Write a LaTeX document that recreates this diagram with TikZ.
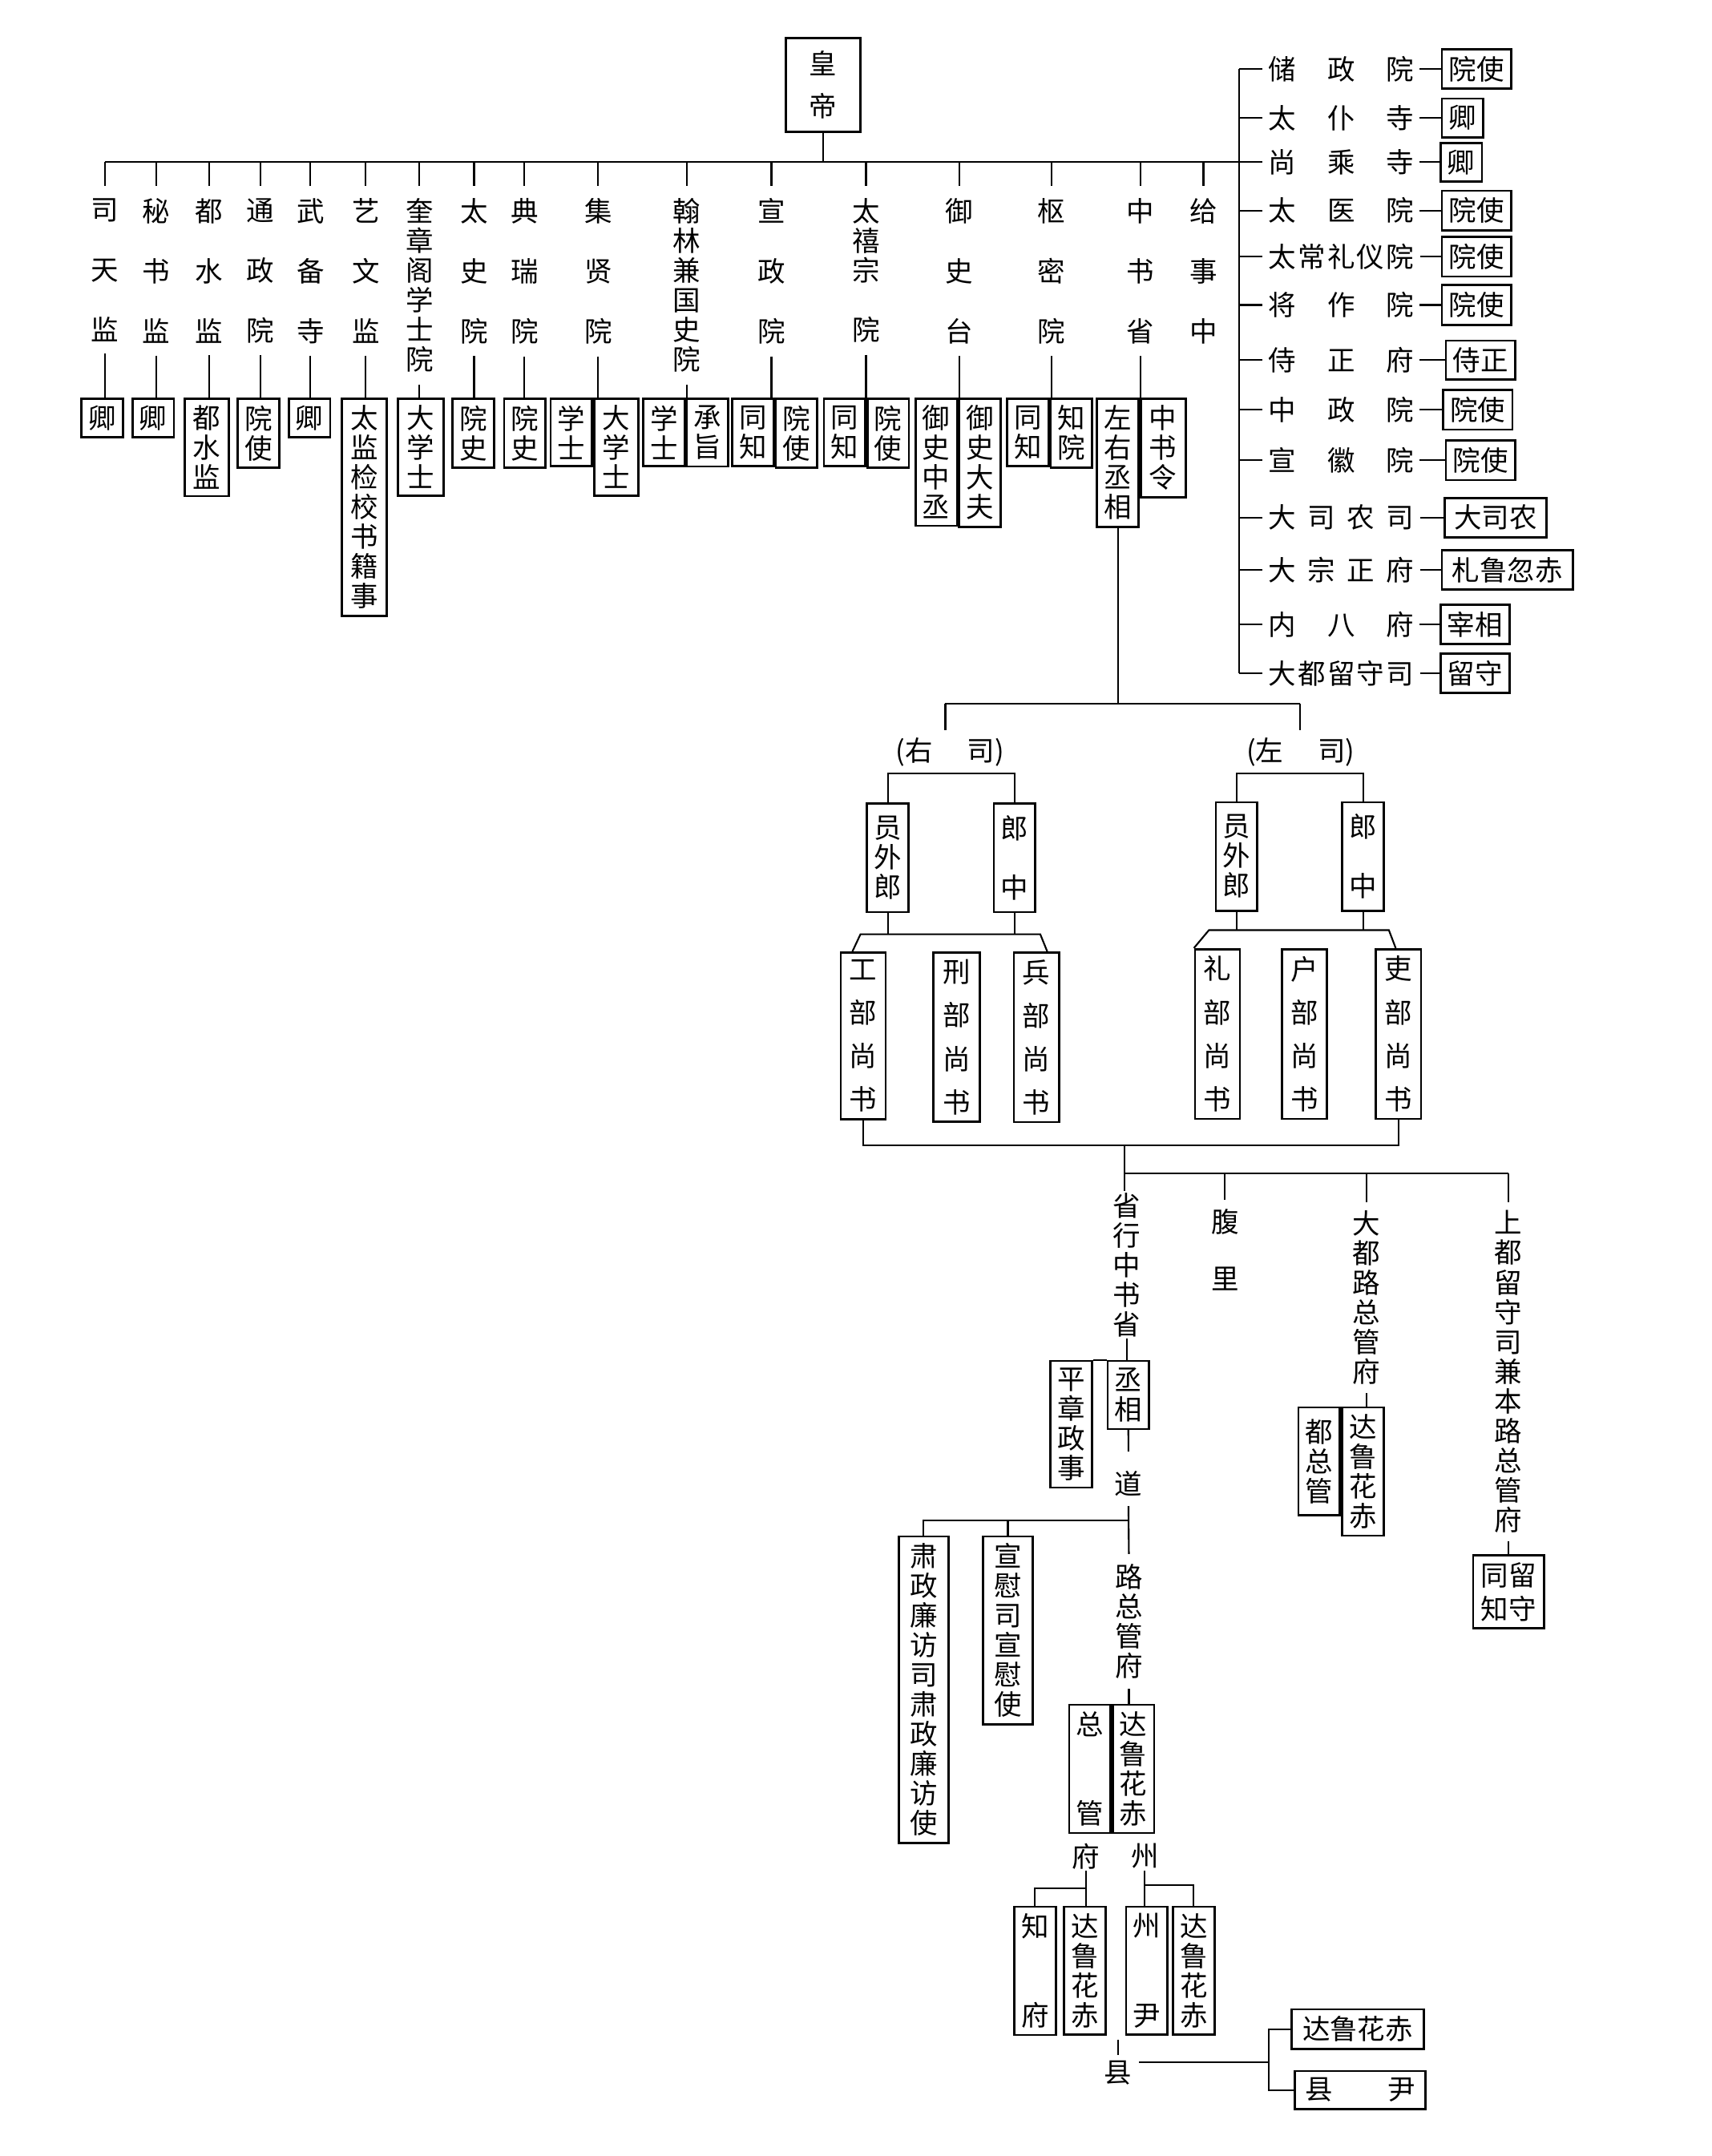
\documentclass[tikz,border=0pt]{standalone}
\usepackage{fontspec}
\setmainfont{Noto Sans CJK SC}
\usetikzlibrary{calc}
\tikzset{
  every node/.style={font=\fontsize{11.4pt}{12.24pt}\selectfont},
  ln/.style={line width=0.7pt},
  lbl/.style={inner xsep=0pt, inner ysep=0.17cm, align=center},
  lbs/.style={inner xsep=0pt, inner ysep=0.12cm, align=center},
  tx/.style={inner xsep=0.1cm, inner ysep=0.02cm, align=center},
  rt/.style={inner xsep=0.08cm, inner ysep=0pt},
  vbox/.style={draw, line width=0.9pt, inner sep=0.1cm, align=center, minimum width=0.6cm},
  hbox/.style={draw, line width=0.9pt, inner sep=0.1cm},
}
\begin{document}
\begin{tikzpicture}[x=0.02cm,y=-0.02cm]
\fill[white] (0,0) rectangle (1240,1562.3);
\useasboundingbox (0,0) rectangle (1240,1562.3);

% emperor
\node[vbox, minimum width=1.08cm, minimum height=1.36cm] (emp) at (596.5,61.5) {皇\\[0.19cm]帝};
\coordinate (hl) at (76,117.5);
\coordinate (hr) at (898,117.5);
\draw[ln] (emp.south) -- (emp.south |- hl);
\draw[ln] (hl) -- (hr);

% column labels
\node[lbl, anchor=north] (c1) at (76,135) {司\\[0.44cm]天\\[0.44cm]监};
\node[lbl, anchor=north] (c2) at (113,135) {秘\\[0.44cm]书\\[0.44cm]监};
\node[lbl, anchor=north] (c3) at (151.5,135) {都\\[0.44cm]水\\[0.44cm]监};
\node[lbl, anchor=north] (c4) at (188.5,135) {通\\[0.44cm]政\\[0.44cm]院};
\node[lbl, anchor=north] (c5) at (225,135) {武\\[0.44cm]备\\[0.44cm]寺};
\node[lbl, anchor=north] (c6) at (265,135) {艺\\[0.44cm]文\\[0.44cm]监};
\node[lbl, anchor=north] (c7) at (304,135) {奎\\章\\阁\\学\\士\\院};
\node[lbl, anchor=north] (c8) at (343.5,135) {太\\[0.44cm]史\\[0.44cm]院};
\node[lbl, anchor=north] (c9) at (380,135) {典\\[0.44cm]瑞\\[0.44cm]院};
\node[lbl, anchor=north] (c10) at (433.5,135) {集\\[0.44cm]贤\\[0.44cm]院};
\node[lbl, anchor=north] (c11) at (497.5,135) {翰\\林\\兼\\国\\史\\院};
\node[lbl, anchor=north] (c12) at (559,135) {宣\\[0.44cm]政\\[0.44cm]院};
\node[lbl, anchor=north] (c13) at (627.5,135) {太\\禧\\宗\\[0.43cm]院};
\node[lbl, anchor=north] (c14) at (695,135) {御\\[0.44cm]史\\[0.44cm]台};
\node[lbl, anchor=north] (c15) at (762,135) {枢\\[0.44cm]密\\[0.44cm]院};
\node[lbl, anchor=north] (c16) at (826.5,135) {中\\[0.44cm]书\\[0.44cm]省};
\node[lbl, anchor=north] (c17) at (872,135) {给\\[0.44cm]事\\[0.44cm]中};
\foreach \c in {c1,c2,c3,c4,c5,c6,c7,c8,c9,c10,c11,c12,c13,c14,c15,c16,c17}
  \draw[ln] (\c.north |- hl) -- (\c.north);

% boxes under columns
\node[vbox, anchor=north] (b1) at (74,288) {卿};
\node[vbox, anchor=north] (b2) at (111,288) {卿};
\node[vbox, anchor=north, minimum width=0.64cm] (b3) at (149.7,288) {都\\水\\监};
\node[vbox, anchor=north, minimum width=0.58cm] (b4) at (187.4,288) {院\\使};
\node[vbox, anchor=north] (b5) at (224.2,288) {卿};
\node[vbox, anchor=north, minimum width=0.65cm] (b6) at (264,288) {太\\监\\检\\校\\书\\籍\\事};
\node[vbox, anchor=north, minimum width=0.66cm] (b7) at (305,288) {大\\学\\士};
\node[vbox, anchor=north, minimum width=0.58cm] (b8) at (342.9,288) {院\\史};
\node[vbox, anchor=north, minimum width=0.58cm] (b9) at (380.3,288) {院\\史};
\node[vbox, anchor=north east, minimum width=0.58cm] (b10a) at (429.8,288) {学\\士};
\node[vbox, anchor=north west, minimum width=0.64cm] (b10b) at (429.8,288) {大\\学\\士};
\node[vbox, anchor=north east, minimum width=0.57cm] (b11a) at (497,288) {学\\士};
\node[vbox, anchor=north west, minimum width=0.57cm] (b11b) at (497,288) {承\\旨};
\node[vbox, anchor=north east, minimum width=0.57cm] (b12a) at (561.4,288) {同\\知};
\node[vbox, anchor=north west, minimum width=0.57cm] (b12b) at (561.4,288) {院\\使};
\node[vbox, anchor=north east, minimum width=0.59cm] (b13a) at (627.8,288) {同\\知};
\node[vbox, anchor=north west, minimum width=0.57cm] (b13b) at (627.8,288) {院\\使};
\node[vbox, anchor=north east, minimum width=0.59cm] (b14a) at (694.2,288) {御\\史\\中\\丞};
\node[vbox, anchor=north west, minimum width=0.6cm] (b14b) at (694.2,288) {御\\史\\大\\夫};
\node[vbox, anchor=north east, minimum width=0.57cm] (b15a) at (760.6,288) {同\\知};
\node[vbox, anchor=north west, minimum width=0.58cm] (b15b) at (760.6,288) {知\\院};
\node[vbox, anchor=north east, minimum width=0.6cm] (b16a) at (825.8,288) {左\\右\\丞\\相};
\node[vbox, anchor=north west, minimum width=0.65cm] (b16b) at (825.8,288) {中\\书\\令};
\draw[ln] (c1.south) -- (c1.south |- b1.north);
\draw[ln] (c2.south) -- (c2.south |- b2.north);
\draw[ln] (c3.south) -- (c3.south |- b3.north);
\draw[ln] (c4.south) -- (c4.south |- b4.north);
\draw[ln] (c5.south) -- (c5.south |- b5.north);
\draw[ln] (c6.south) -- (c6.south |- b6.north);
\draw[ln] (c7.south) -- (c7.south |- b7.north);
\draw[ln] (c8.south) -- (c8.south |- b8.north);
\draw[ln] (c9.south) -- (c9.south |- b9.north);
\draw[ln] (c10.south) -- (c10.south |- b10b.north);
\draw[ln] (c11.south) -- (c11.south |- b11a.north);
\draw[ln] (c12.south) -- (c12.south |- b12a.north);
\draw[ln] (c13.south) -- (c13.south |- b13a.north);
\draw[ln] (c14.south) -- (c14.south |- b14a.north);
\draw[ln] (c15.south) -- (c15.south |- b15a.north);
\draw[ln] (c16.south) -- (c16.south |- b16a.north);

% right column
\coordinate (vt) at (898,50);
\coordinate (vb) at (898,488);
\draw[ln] (vt) -- (vb);
\node[rt, anchor=west] (r1) at (915,50) {储\hspace{0.45cm}政\hspace{0.45cm}院};
\node[rt, anchor=west] (r2) at (915,85.5) {太\hspace{0.45cm}仆\hspace{0.45cm}寺};
\node[rt, anchor=west] (r3) at (915,117.5) {尚\hspace{0.45cm}乘\hspace{0.45cm}寺};
\node[rt, anchor=west] (r4) at (915,152.5) {太\hspace{0.45cm}医\hspace{0.45cm}院};
\node[rt, anchor=west] (r5) at (915,186) {太\hspace{0.025cm}常\hspace{0.025cm}礼\hspace{0.025cm}仪\hspace{0.025cm}院};
\node[rt, anchor=west] (r6) at (915,221) {将\hspace{0.45cm}作\hspace{0.45cm}院};
\node[rt, anchor=west] (r7) at (915,261) {侍\hspace{0.45cm}正\hspace{0.45cm}府};
\node[rt, anchor=west] (r8) at (915,297) {中\hspace{0.45cm}政\hspace{0.45cm}院};
\node[rt, anchor=west] (r9) at (915,333.5) {宣\hspace{0.45cm}徽\hspace{0.45cm}院};
\node[rt, anchor=west] (r10) at (915,375) {大\hspace{0.167cm}司\hspace{0.167cm}农\hspace{0.167cm}司};
\node[rt, anchor=west] (r11) at (915,413) {大\hspace{0.167cm}宗\hspace{0.167cm}正\hspace{0.167cm}府};
\node[rt, anchor=west] (r12) at (915,452.5) {内\hspace{0.45cm}八\hspace{0.45cm}府};
\node[rt, anchor=west] (r13) at (915,488) {大\hspace{0.025cm}都\hspace{0.025cm}留\hspace{0.025cm}守\hspace{0.025cm}司};
\node[hbox, anchor=west] (q1) at (1044,50) {院使};
\node[hbox, anchor=west] (q2) at (1044,85.5) {卿};
\node[hbox, anchor=west] (q3) at (1043,117.5) {卿};
\node[hbox, anchor=west] (q4) at (1044,152.5) {院使};
\node[hbox, anchor=west] (q5) at (1044,186) {院使};
\node[hbox, anchor=west] (q6) at (1044,221) {院使};
\node[hbox, anchor=west] (q7) at (1047,261) {侍正};
\node[hbox, anchor=west] (q8) at (1045,297) {院使};
\node[hbox, anchor=west] (q9) at (1047,333.5) {院使};
\node[hbox, anchor=west, minimum width=1.48cm] (q10) at (1046,375) {大司农};
\node[hbox, anchor=west, minimum width=1.9cm] (q11) at (1044,413) {札鲁忽赤};
\node[hbox, anchor=west] (q12) at (1043,452.5) {宰相};
\node[hbox, anchor=west] (q13) at (1043,488) {留守};
\foreach \i in {1,...,13} {
  \draw[ln] (r\i.west -| vt) -- (r\i.west);
  \draw[ln] (r\i.east) -- (q\i.west);
}

% central secretariat subtree
\coordinate (j1) at (685,510);
\coordinate (j2) at (942,510);
\draw[ln] (b16a.south) -- (b16a.south |- j1);
\draw[ln] (j1 -| b16a.south) -- (j1);
\draw[ln] (j1 -| b16a.south) -- (j2);
\node[tx, inner ysep=0.1cm] (ys) at (688.5,545) {(右\hspace{0.5cm}司)};
\node[tx, inner ysep=0.1cm] (zs) at (942.4,545) {(左\hspace{0.5cm}司)};
\draw[ln] (j1) -- (j1 |- ys.north);
\draw[ln] (j2) -- (j2 |- zs.north);

\node[vbox, anchor=north, minimum width=0.546cm, minimum height=1.572cm] (y1) at (643.3,581.5) {员\\外\\郎};
\node[vbox, anchor=north, minimum width=0.554cm, minimum height=1.572cm] (y2) at (735.2,581.5) {郎\\[0.43cm]中};
\node[vbox, anchor=north, minimum width=0.554cm, minimum height=1.572cm] (z1) at (896,580.5) {员\\外\\郎};
\node[vbox, anchor=north, minimum width=0.554cm, minimum height=1.572cm] (z2) at (987.7,580.5) {郎\\[0.43cm]中};
\coordinate (ya) at (689,560.5);
\coordinate (za) at (942,560.5);
\draw[ln] (y1.north) |- (ya) -| (y2.north);
\draw[ln] (z1.north) |- (za) -| (z2.north);

\node[vbox, anchor=north, minimum width=0.652cm] (g1) at (625.5,689.5) {工\\[0.2cm]部\\[0.2cm]尚\\[0.2cm]书};
\node[vbox, anchor=north, minimum width=0.67cm] (g2) at (693.2,689.5) {刑\\[0.2cm]部\\[0.2cm]尚\\[0.2cm]书};
\node[vbox, anchor=north, minimum width=0.652cm] (g3) at (751,689.5) {兵\\[0.2cm]部\\[0.2cm]尚\\[0.2cm]书};
\node[vbox, anchor=north, minimum width=0.652cm] (l1) at (882.2,687) {礼\\[0.2cm]部\\[0.2cm]尚\\[0.2cm]书};
\node[vbox, anchor=north, minimum width=0.652cm] (l2) at (945.3,687) {户\\[0.2cm]部\\[0.2cm]尚\\[0.2cm]书};
\node[vbox, anchor=north, minimum width=0.654cm] (l3) at (1013.4,687) {吏\\[0.2cm]部\\[0.2cm]尚\\[0.2cm]书};
\coordinate (ybl) at (623.5,677);
\coordinate (ybr) at (753.8,677);
\coordinate (zbl) at (876,674);
\coordinate (zbr) at (1006.4,674);
\draw[ln] (y1.south) -- (y1.south |- ybl);
\draw[ln] (y2.south) -- (y2.south |- ybl);
\draw[ln] ($(g1.north west)!0.27!(g1.north east)$) -- (ybl) -- (ybr) -- ($(g3.north west)!0.73!(g3.north east)$);
\draw[ln] (z1.south) -- (z1.south |- zbl);
\draw[ln] (z2.south) -- (z2.south |- zbl);
\draw[ln] (l1.north west) -- (zbl) -- (zbr) -- ($(l3.north west)!0.44!(l3.north east)$);

\coordinate (bk) at (815,830);
\coordinate (bh) at (815,850.5);
\draw[ln] (g1.south) |- (bk) -| (l3.south);
\draw[ln] (bk) -- (bh);

% branches below
\node[lbl, anchor=north, inner ysep=0.02cm] (s1) at (816.5,863) {省\\行\\中\\书\\省};
\node[lbs, anchor=north] (s2) at (887.6,869.6) {腹\\[0.4cm]里};
\node[lbs, anchor=north] (s3) at (990.3,870.9) {大\\都\\路\\总\\管\\府};
\node[lbs, anchor=north] (s4) at (1092.8,870.9) {上\\都\\留\\守\\司\\兼\\本\\路\\总\\管\\府};
\draw[ln] (bh) -- (bh -| s4.north);
\draw[ln] (bh) -- (bh |- s1.north);
\draw[ln] (s2.north |- bh) -- (s2.north);
\draw[ln] (s3.north |- bh) -- (s3.north);
\draw[ln] (s4.north |- bh) -- (s4.north);

% province
\node[vbox, anchor=north, minimum width=0.564cm] (cx) at (817.6,985.4) {丞\\相};
\node[vbox, anchor=north, minimum width=0.54cm] (pz) at (776.2,985.4) {平\\章\\政\\事};
\draw[ln] (s1.south) -- (s1.south |- cx.north);
\draw[ln] (pz.north east) -- (cx.north west);
\node[tx, inner ysep=0.14cm] (dao) at (817.7,1074.9) {道};
\draw[ln, shorten >=0.13cm] (cx.south) -- (dao.north);
\node[lbl, anchor=north, inner ysep=0.14cm] (lz) at (818,1126) {路\\总\\管\\府};
\draw[ln] (dao.south) -- (lz.north);
\coordinate (dh) at (817.8,1101.6);
\node[vbox, anchor=north, minimum width=0.72cm] (sz) at (669.2,1112.5) {肃\\政\\廉\\访\\司\\肃\\政\\廉\\访\\使};
\node[vbox, anchor=north, minimum width=0.72cm] (xw) at (730.3,1112.5) {宣\\慰\\司\\宣\\慰\\使};
\draw[ln] (dh) -| (sz.north);
\draw[ln] (xw.north |- dh) -- (xw.north);

\node[vbox, anchor=north west, minimum width=0.53cm] (dg) at (805.5,1234.5) {达\\鲁\\花\\赤};
\node[vbox, anchor=north east, minimum width=0.52cm] (zg) at (805.5,1234.5) {总\\[0.86cm]管};
\draw[ln] (lz.south) -- (lz.south |- dg.north);

\node[tx] (fu) at (787,1345) {府};
\node[tx] (zh) at (829.5,1345) {州};
\node[vbox, anchor=north, minimum width=0.53cm] (zf) at (750,1380.8) {知\\[0.86cm]府};
\node[vbox, anchor=north, minimum width=0.54cm] (fd) at (786,1380.8) {达\\鲁\\花\\赤};
\node[vbox, anchor=north, minimum width=0.54cm] (zy) at (831,1380.8) {州\\[0.86cm]尹};
\node[vbox, anchor=north, minimum width=0.53cm] (zd) at (865,1380.8) {达\\鲁\\花\\赤};
\coordinate (fh) at (787,1368.2);
\coordinate (zj) at (829.5,1366.2);
\draw[ln] (fu.south) -- (fu.south |- fd.north);
\draw[ln] (fh) -| (zf.north);
\draw[ln] (zh.south) -- (zh.south |- zy.north);
\draw[ln] (zj) -| (zd.north);

% county
\node[tx] (xian) at (810,1502) {县};
\coordinate (xt) at (810,1478);
\draw[ln, shorten >=0.06cm] (xt) -- (xian.north);
\node[hbox, anchor=west, minimum width=1.91cm] (xd) at (935.3,1470.3) {达鲁花赤};
\node[hbox, anchor=west, minimum width=1.9cm] (xy) at (937.3,1514.5) {县\hspace{2em}尹};
\coordinate (xv) at (919.2,1494.5);
\draw[ln] (xian.east |- xv) -- (xv);
\draw[ln] (xd.west) -| (xv) |- (xy.west);

% Dadu circuit
\node[vbox, anchor=north west, minimum width=0.53cm] (dd) at (971.7,1019.1) {达\\鲁\\花\\赤};
\node[vbox, anchor=north east, minimum width=0.55cm, minimum height=1.56cm] (dz) at (971.7,1019.1) {都\\总\\管};
\draw[ln] (s3.south) -- (s3.south |- dd.north);

% Shangdu
\node[vbox, anchor=north, minimum width=1.03cm] (sd) at (1093.2,1126.2) {同留\\[0.06cm]知守};
\draw[ln] (s4.south) -- (s4.south |- sd.north);
\end{tikzpicture}
\end{document}
